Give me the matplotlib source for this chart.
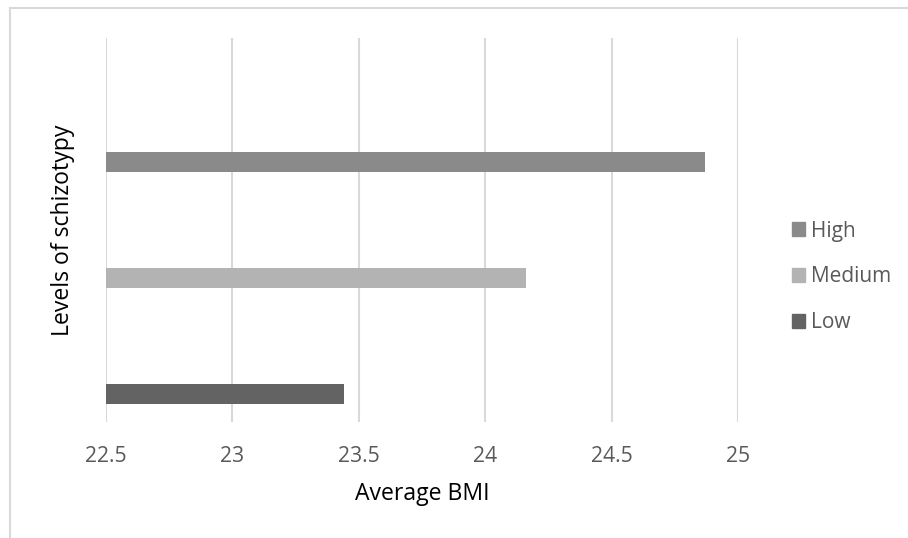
import matplotlib
matplotlib.use('Agg')
import matplotlib.pyplot as plt
from matplotlib.lines import Line2D
from matplotlib.patches import Patch

plt.rcParams['font.family'] = ['Open Sans', 'DejaVu Sans']

# data
levels = ['Low', 'Medium', 'High']
bmi = [23.44, 24.16, 24.87]
colors = ['#636363', '#b3b3b3', '#8a8a8a']
xticks = [22.5, 23, 23.5, 24, 24.5, 25]

fig = plt.figure(figsize=(9.08, 5.38), dpi=100)
ax = fig.add_axes([106/908, 1 - 422/538, (738-106)/908, (422-38)/538])

ypos = range(len(levels))
for y, v, c in zip(ypos, bmi, colors):
    ax.barh(y, v - 22.5, left=22.5, height=0.18, color=c, zorder=3)

ax.set_xlim(22.5, 25)
ax.set_ylim(-0.241, 3.069)
ax.set_xticks(xticks)
ax.set_xticklabels([f'{t:g}' for t in xticks])
ax.set_yticks([])
ax.grid(axis='x', color='#d9d9d9', linewidth=1.5, zorder=0)
for s in ax.spines.values():
    s.set_visible(False)
ax.tick_params(axis='x', length=0, pad=17, labelsize=15.2, labelcolor='#595959')

ax.set_xlabel('Average BMI', fontsize=16.6, color='black', labelpad=11)
ax.set_ylabel('Levels of schizotypy', fontsize=16.6, color='black', labelpad=22)

# legend, top to bottom High, Medium, Low
handles = [Patch(color=c) for c in colors[::-1]]
fig.legend(handles, levels[::-1], loc='center left',
           bbox_to_anchor=(792/908, 1 - 277/538), frameon=False,
           fontsize=15, labelcolor='#595959', handlelength=0.62,
           handleheight=0.62, handletextpad=0.3, labelspacing=1.2,
           borderpad=0, borderaxespad=0)

# chart area border (only top and left visible)
fig.add_artist(Line2D([10/908, 10/908], [0, 1 - 8/538], color='#d9d9d9', linewidth=1.5))
fig.add_artist(Line2D([10/908, 1], [1 - 8/538, 1 - 8/538], color='#d9d9d9', linewidth=1.5))

fig.savefig('out.png', dpi=100)
